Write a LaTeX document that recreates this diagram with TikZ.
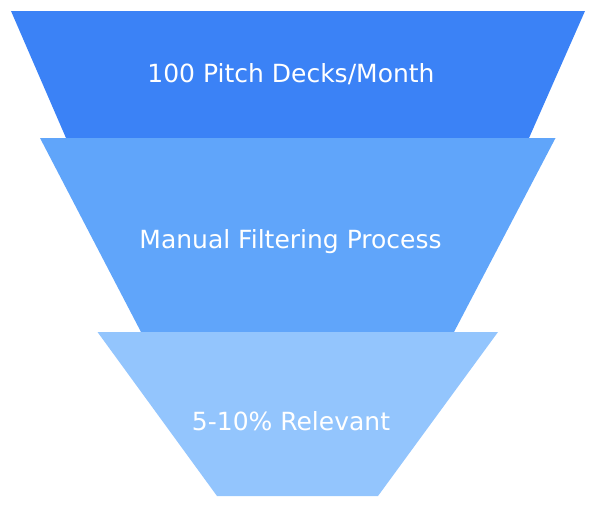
\documentclass[tikz,border=0pt]{standalone}
\usepackage{fontspec}
\setmainfont{DejaVu Sans}
\definecolor{blueA}{HTML}{3B82F6}
\definecolor{blueB}{HTML}{60A5FA}
\definecolor{blueC}{HTML}{93C5FD}
\begin{document}
\begin{tikzpicture}[x=1pt,y=-1pt,
  label/.style={text=white,font=\fontsize{25}{30}\selectfont,anchor=base,inner sep=0pt}]
\useasboundingbox (0,0) rectangle (596,507);
\fill[blueA] (11,11) -- (585,11) -- (529,138) -- (66,138) -- cycle;
\fill[blueB] (40,138) -- (555.5,138) -- (454,332) -- (141,332) -- cycle;
\fill[blueC] (97.5,332) -- (498,332) -- (378,496) -- (217,496) -- cycle;
\node[label] (t1) at (291,82.3) {100 Pitch Decks/Month};
\node[label] (t2) at (290.5,248.7) {Manual Filtering Process};
\node[label] (t3) at (291,430) {5-10\% Relevant};
\end{tikzpicture}
\end{document}
